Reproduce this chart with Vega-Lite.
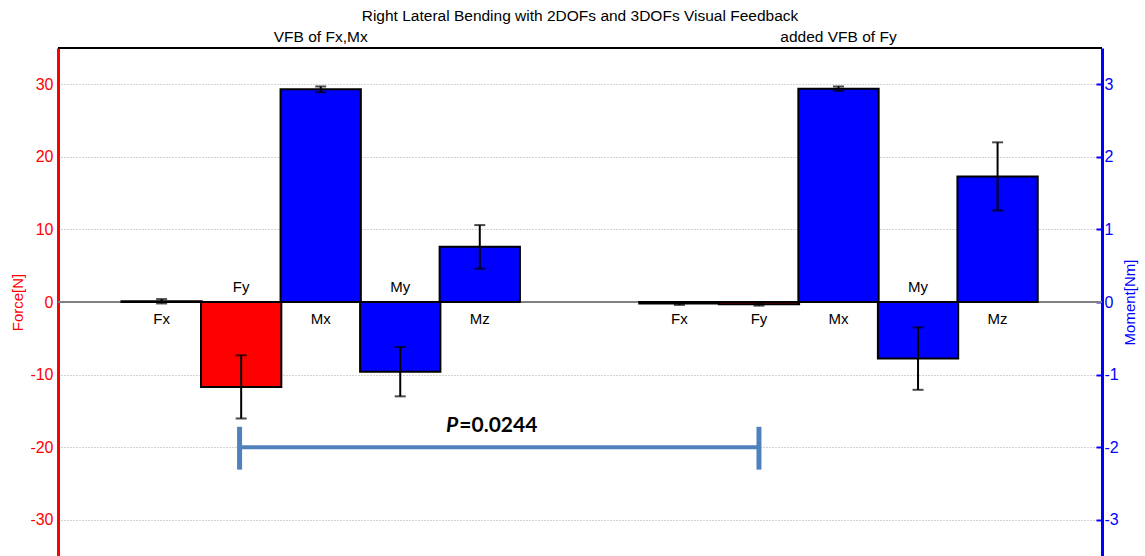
{
  "$schema": "https://vega.github.io/schema/vega-lite/v6.json",
  "width": 1044,
  "height": 508,
  "autosize": {"type": "none"},
  "padding": {"left": 58, "top": 48, "right": 43, "bottom": 0},
  "background": "white",
  "title": {
    "text": "Right Lateral Bending with 2DOFs and 3DOFs Visual Feedback",
    "font": "Liberation Sans",
    "fontSize": 15.5,
    "fontWeight": "normal",
    "color": "black",
    "anchor": "middle",
    "frame": "group",
    "offset": 6
  },
  "config": {"view": {"stroke": null}, "font": "Liberation Sans"},
  "datasets": {
    "bars": [
      {"group": "VFB of Fx,Mx", "comp": "Fx", "type": "Force", "pos": 0.99, "mean": 0.1, "sd": 0.3},
      {"group": "VFB of Fx,Mx", "comp": "Fy", "type": "Force", "pos": 1.99, "mean": -11.7, "sd": 4.35},
      {"group": "VFB of Fx,Mx", "comp": "Mx", "type": "Moment", "pos": 2.99, "mean": 2.93, "sd": 0.04},
      {"group": "VFB of Fx,Mx", "comp": "My", "type": "Moment", "pos": 3.99, "mean": -0.96, "sd": 0.34},
      {"group": "VFB of Fx,Mx", "comp": "Mz", "type": "Moment", "pos": 4.99, "mean": 0.76, "sd": 0.3},
      {"group": "added VFB of Fy", "comp": "Fx", "type": "Force", "pos": 7.5, "mean": -0.2, "sd": 0.2},
      {"group": "added VFB of Fy", "comp": "Fy", "type": "Force", "pos": 8.5, "mean": -0.3, "sd": 0.2},
      {"group": "added VFB of Fy", "comp": "Mx", "type": "Moment", "pos": 9.5, "mean": 2.94, "sd": 0.03},
      {"group": "added VFB of Fy", "comp": "My", "type": "Moment", "pos": 10.5, "mean": -0.78, "sd": 0.43},
      {"group": "added VFB of Fy", "comp": "Mz", "type": "Moment", "pos": 11.5, "mean": 1.73, "sd": 0.47}
    ],
    "groups": [
      {"group": "VFB of Fx,Mx", "pos": 2.99},
      {"group": "added VFB of Fy", "pos": 9.5}
    ],
    "pvalue": [
      {"from": 1.97, "to": 8.5, "level": -20, "capLow": -23.1, "capHigh": -17.2, "p": "=0.0244"}
    ]
  },
  "layer": [
    {
      "layer": [
        {
          "data": {"name": "bars"},
          "mark": {"type": "rule", "color": "#808080", "strokeWidth": 1.5},
          "encoding": {
            "y": {"datum": 0, "type": "quantitative", "title": "Force[N]"}
          }
        },
        {
          "data": {"name": "bars"},
          "transform": [{"filter": "datum.type === 'Force'"}],
          "mark": {"type": "bar", "color": "#FF0000", "stroke": "black", "strokeWidth": 2, "width": 80.3},
          "encoding": {
            "x": {"field": "pos", "type": "quantitative", "scale": {"domain": [-0.25, 12.75], "nice": false, "zero": false}, "axis": null},
            "y": {
              "field": "mean",
              "type": "quantitative",
              "title": "Force[N]",
              "scale": {"domain": [-35, 35], "nice": false},
              "axis": {
                "orient": "left",
                "values": [-30, -20, -10, 0, 10, 20, 30],
                "labelExpr": "'' + datum.value",
                "titleColor": "red",
                "titleFont": "Liberation Sans",
                "titleFontSize": 15,
                "titleFontWeight": "normal",
                "titlePadding": 4,
                "labelColor": "red",
                "labelFont": "Liberation Sans",
                "labelFontSize": 16,
                "labelPadding": 5,
                "domainColor": "red",
                "domainWidth": 3,
                "ticks": false,
                "grid": true,
                "gridColor": "#a6a6a6",
                "gridDash": [1, 2],
                "gridWidth": 1
              }
            }
          }
        },
        {
          "data": {"name": "bars"},
          "transform": [{"filter": "datum.type === 'Force'"}],
          "mark": {"type": "errorbar", "ticks": {"color": "black", "size": 11, "thickness": 2}, "rule": {"color": "black", "strokeWidth": 2}},
          "encoding": {
            "x": {"field": "pos", "type": "quantitative"},
            "y": {"field": "mean", "type": "quantitative", "title": "Force[N]"},
            "yError": {"field": "sd"}
          }
        },
        {
          "data": {"name": "bars"},
          "mark": {"type": "rule", "color": "black", "strokeWidth": 2},
          "encoding": {
            "y": {"datum": 35, "type": "quantitative", "title": "Force[N]"}
          }
        },
        {
          "data": {"name": "bars"},
          "transform": [{"filter": "datum.type === 'Force' ? datum.mean >= -1 : datum.mean >= -0.1"}],
          "mark": {"type": "text", "font": "Liberation Sans", "fontSize": 15, "color": "black", "baseline": "middle", "dy": 17},
          "encoding": {
            "x": {"field": "pos", "type": "quantitative"},
            "y": {"datum": 0, "type": "quantitative", "title": "Force[N]"},
            "text": {"field": "comp"}
          }
        },
        {
          "data": {"name": "bars"},
          "transform": [{"filter": "datum.type === 'Force' ? datum.mean < -1 : datum.mean < -0.1"}],
          "mark": {"type": "text", "font": "Liberation Sans", "fontSize": 15, "color": "black", "baseline": "middle", "dy": -15},
          "encoding": {
            "x": {"field": "pos", "type": "quantitative"},
            "y": {"datum": 0, "type": "quantitative", "title": "Force[N]"},
            "text": {"field": "comp"}
          }
        },
        {
          "data": {"name": "groups"},
          "mark": {"type": "text", "font": "Liberation Sans", "fontSize": 15.5, "color": "black", "baseline": "middle", "dy": -11},
          "encoding": {
            "x": {"field": "pos", "type": "quantitative"},
            "y": {"datum": 35, "type": "quantitative", "title": "Force[N]"},
            "text": {"field": "group"}
          }
        },
        {
          "data": {"name": "pvalue"},
          "mark": {"type": "rule", "color": "#4F81BD", "strokeWidth": 4},
          "encoding": {
            "x": {"field": "from", "type": "quantitative"},
            "x2": {"field": "to"},
            "y": {"field": "level", "type": "quantitative", "title": "Force[N]"}
          }
        },
        {
          "data": {"name": "pvalue"},
          "mark": {"type": "rule", "color": "#4F81BD", "strokeWidth": 5},
          "encoding": {
            "x": {"field": "from", "type": "quantitative"},
            "y": {"field": "capLow", "type": "quantitative", "title": "Force[N]"},
            "y2": {"field": "capHigh"}
          }
        },
        {
          "data": {"name": "pvalue"},
          "mark": {"type": "rule", "color": "#4F81BD", "strokeWidth": 5},
          "encoding": {
            "x": {"field": "to", "type": "quantitative"},
            "y": {"field": "capLow", "type": "quantitative", "title": "Force[N]"},
            "y2": {"field": "capHigh"}
          }
        },
        {
          "data": {"name": "pvalue"},
          "mark": {"type": "text", "text": "P", "font": "Lato", "fontSize": 21, "fontWeight": "bold", "fontStyle": "italic", "color": "black", "align": "right", "baseline": "middle"},
          "encoding": {
            "x": {"datum": 4.72, "type": "quantitative"},
            "y": {"datum": -17.05, "type": "quantitative", "title": "Force[N]"}
          }
        },
        {
          "data": {"name": "pvalue"},
          "mark": {"type": "text", "font": "Lato", "fontSize": 21, "fontWeight": "bold", "color": "black", "align": "left", "baseline": "middle", "dx": 1},
          "encoding": {
            "x": {"datum": 4.72, "type": "quantitative"},
            "y": {"datum": -17.05, "type": "quantitative", "title": "Force[N]"},
            "text": {"field": "p"}
          }
        }
      ]
    },
    {
      "layer": [
        {
          "data": {"name": "bars"},
          "transform": [{"filter": "datum.type === 'Moment'"}],
          "mark": {"type": "bar", "color": "#0000FF", "stroke": "black", "strokeWidth": 2, "width": 80.3},
          "encoding": {
            "x": {"field": "pos", "type": "quantitative", "scale": {"domain": [-0.25, 12.75], "nice": false, "zero": false}, "axis": null},
            "y": {
              "field": "mean",
              "type": "quantitative",
              "title": "Moment[Nm]",
              "scale": {"domain": [-3.5, 3.5], "nice": false},
              "axis": {
                "orient": "right",
                "values": [-3, -2, -1, 0, 1, 2, 3],
                "labelExpr": "'' + datum.value",
                "titleColor": "blue",
                "titleFont": "Liberation Sans",
                "titleFontSize": 15,
                "titleFontWeight": "normal",
                "titleAngle": -90,
                "titlePadding": 19,
                "labelColor": "blue",
                "labelFont": "Liberation Sans",
                "labelFontSize": 16,
                "labelPadding": 8,
                "domainColor": "blue",
                "domainWidth": 3,
                "ticks": true,
                "tickColor": "blue",
                "tickWidth": 2,
                "tickSize": -6,
                "grid": false
              }
            }
          }
        },
        {
          "data": {"name": "bars"},
          "transform": [{"filter": "datum.type === 'Moment'"}],
          "mark": {"type": "errorbar", "ticks": {"color": "black", "size": 11, "thickness": 2}, "rule": {"color": "black", "strokeWidth": 2}},
          "encoding": {
            "x": {"field": "pos", "type": "quantitative"},
            "y": {"field": "mean", "type": "quantitative", "title": "Moment[Nm]"},
            "yError": {"field": "sd"}
          }
        }
      ]
    }
  ],
  "resolve": {"scale": {"y": "independent"}}
}
